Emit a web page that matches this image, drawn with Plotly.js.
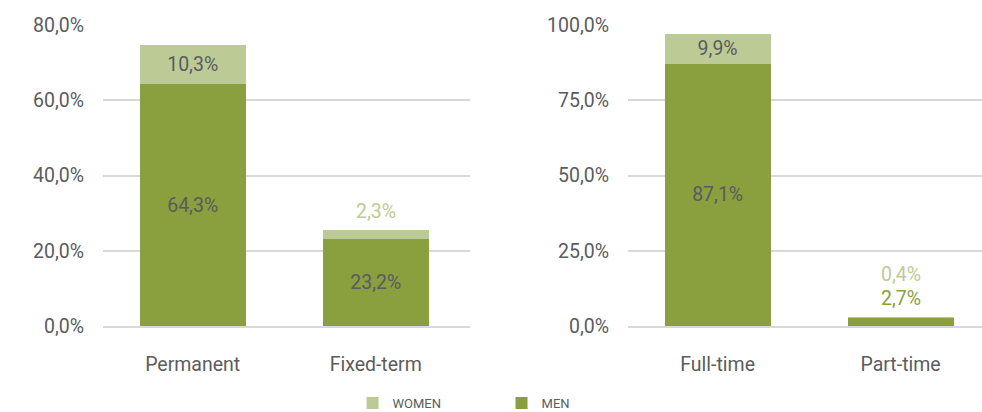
<!DOCTYPE html>
<html>
<head>
<meta charset="utf-8">
<script src="https://cdn.plot.ly/plotly-3.0.1.min.js"></script>
<style>
    body { margin: 0; background: #fff; }
    #graph { width: 982px; height: 412px; }
</style>
</head>
<body>
<div id="graph"></div>
<script>
// contract type (left panel)
let contract_cats = ['Permanent', 'Fixed-term'];
let contract_men = [64.3, 23.2];
let contract_women = [10.3, 2.3];

// working time (right panel)
let time_cats = ['Full-time', 'Part-time'];
let time_men = [87.1, 2.7];
let time_women = [9.9, 0.4];

const MEN_COLOR = '#8a9f3d';
const WOMEN_COLOR = '#bccb95';
const TEXT_GREY = '#5a5c5e';
const FONT = 'Roboto, sans-serif';
const FONT_SIZE = 19.5;

function pct(v) {
    return v.toFixed(1).replace('.', ',') + '%';
}

// small segments get their label above the stack instead of inside
function text_positions(values, limit) {
    return values.map(v => v < limit ? 'none' : 'inside');
}

function bar_trace(cats, values, name, color, xa, ya, legend) {
    return {
        x: cats,
        y: values,
        type: 'bar',
        name: name,
        xaxis: xa,
        yaxis: ya,
        showlegend: legend,
        marker: { color: color },
        text: values.map(pct),
        textposition: text_positions(values, 5),
        insidetextanchor: 'middle',
        constraintext: 'none',
        textangle: 0,
        textfont: { family: FONT, size: FONT_SIZE, color: TEXT_GREY },
        hoverinfo: 'skip'
    };
}

let traces = [
    bar_trace(contract_cats, contract_men, 'MEN', MEN_COLOR, 'x', 'y', true),
    bar_trace(contract_cats, contract_women, 'WOMEN', WOMEN_COLOR, 'x', 'y', true),
    bar_trace(time_cats, time_men, 'MEN', MEN_COLOR, 'x2', 'y2', false),
    bar_trace(time_cats, time_women, 'WOMEN', WOMEN_COLOR, 'x2', 'y2', false)
];

// labels that sit above short stacks
let annotations = [];
function outside_labels(cats, men, women, xa, ya) {
    cats.forEach((cat, i) => {
        let total = men[i] + women[i];
        let shift = 5;
        if (men[i] < 5) {
            annotations.push({
                x: cat, y: total, xref: xa, yref: ya,
                text: pct(men[i]), showarrow: false,
                yanchor: 'bottom', yshift: shift,
                font: { family: FONT, size: FONT_SIZE, color: MEN_COLOR }
            });
            shift += 24;
        }
        if (women[i] < 5) {
            annotations.push({
                x: cat, y: total, xref: xa, yref: ya,
                text: pct(women[i]), showarrow: false,
                yanchor: 'bottom', yshift: shift,
                font: { family: FONT, size: FONT_SIZE, color: WOMEN_COLOR }
            });
        }
    });
}
outside_labels(contract_cats, contract_men, contract_women, 'x', 'y');
outside_labels(time_cats, time_men, time_women, 'x2', 'y2');

let y_common = {
    showgrid: true,
    gridcolor: '#d9d9d9',
    gridwidth: 2,
    zeroline: false,
    showline: false,
    ticks: '',
    ticksuffix: '%',
    tickformat: '.1f',
    ticklabelstandoff: 18,
    tickfont: { family: FONT, size: FONT_SIZE, color: TEXT_GREY }
};
let x_common = {
    showgrid: false,
    zeroline: false,
    showline: true,
    linecolor: '#d9d9d9',
    linewidth: 2,
    ticks: '',
    ticklabelstandoff: 20,
    tickfont: { family: FONT, size: FONT_SIZE, color: TEXT_GREY }
};

let layout = {
    width: 982,
    height: 412,
    margin: { l: 0, r: 0, t: 25, b: 86 },
    paper_bgcolor: '#ffffff',
    plot_bgcolor: '#ffffff',
    separators: ',.',
    barmode: 'stack',
    bargap: 0.42,
    font: { family: FONT, color: TEXT_GREY },
    xaxis: Object.assign({}, x_common, { domain: [0.1049, 0.4786], range: [-0.49, 1.515] }),
    yaxis: Object.assign({}, y_common, { range: [0, 80], dtick: 20 }),
    xaxis2: Object.assign({}, x_common, { domain: [0.6395, 1], range: [-0.49, 1.445], anchor: 'y2' }),
    yaxis2: Object.assign({}, y_common, { range: [0, 100], dtick: 25, anchor: 'x2' }),
    annotations: annotations,
    legend: {
        orientation: 'h',
        traceorder: 'reversed',
        x: 0.359,
        xanchor: 'left',
        yref: 'container',
        y: 0.022,
        yanchor: 'middle',
        entrywidth: 104,
        entrywidthmode: 'pixels',
        font: { family: FONT, size: 13, color: TEXT_GREY }
    }
};

Plotly.newPlot('graph', traces, layout, { displayModeBar: false, staticPlot: true });
</script>
</body>
</html>
